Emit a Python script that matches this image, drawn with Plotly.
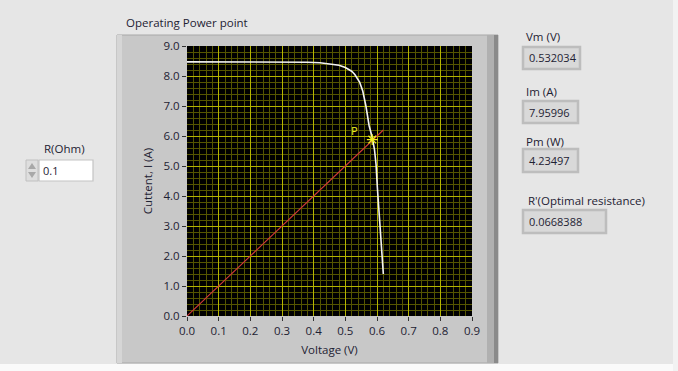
import plotly.graph_objects as go

# ---- data ----
voltage = [0.0, 0.1, 0.2, 0.3, 0.38, 0.42, 0.45, 0.48, 0.5, 0.52, 0.53, 0.545,
           0.555, 0.565, 0.575, 0.585, 0.592, 0.597, 0.601, 0.606, 0.611, 0.615, 0.62]
current = [8.47, 8.47, 8.47, 8.47, 8.46, 8.44, 8.41, 8.36, 8.28, 8.16, 8.05, 7.8,
           7.5, 7.0, 6.35, 5.95, 5.55, 5.05, 4.3, 3.5, 2.85, 2.25, 1.4]
load_v = [0.0, 0.62]
load_i = [0.0, 6.2]
point_v = [0.585]
point_i = [5.88]
point_label = ["P"]
x_ticks = [0.0, 0.1, 0.2, 0.3, 0.4, 0.5, 0.6, 0.7, 0.8, 0.9]
y_ticks = [0.0, 1.0, 2.0, 3.0, 4.0, 5.0, 6.0, 7.0, 8.0, 9.0]
indicators = [("Vm (V)", "0.532034"), ("Im (A)", "7.95996"),
              ("Pm (W)", "4.23497"), ("R'(Optimal resistance)", "0.0668388")]
r_value = "0.1"

W, H = 678, 371
L, R, T, B = 187, 206, 46, 55
PW, PH = W - L - R, H - T - B


def px(x):
    return (x - L) / PW


def py(y):
    return (H - B - y) / PH


FONT = "Open Sans"
TXT = "#1e2233"
YEL = "#f0f020"

fig = go.Figure()
fig.add_trace(go.Scatter(x=voltage, y=current, mode="lines",
                         line=dict(color="#f2f2f2", width=1.6), hoverinfo="skip"))
fig.add_trace(go.Scatter(x=load_v, y=load_i, mode="lines",
                         line=dict(color="#d43a3a", width=1.1), hoverinfo="skip"))
fig.add_trace(go.Scatter(x=point_v, y=point_i, mode="markers",
                         marker=dict(symbol="asterisk-open", size=9, color=YEL,
                                     line=dict(color=YEL, width=1.2)),
                         hoverinfo="skip"))

shapes = []
# white window edge (bottom / right)
shapes.append(dict(type="rect", xref="paper", yref="paper", layer="below",
                   x0=px(0), x1=px(678), y0=py(371), y1=py(364),
                   fillcolor="#fafafa", line=dict(width=0)))
shapes.append(dict(type="rect", xref="paper", yref="paper", layer="below",
                   x0=px(673), x1=px(678), y0=py(371), y1=py(0),
                   fillcolor="#f2f2f2", line=dict(width=0)))
# graph frame
shapes.append(dict(type="rect", xref="paper", yref="paper", layer="below",
                   x0=px(117), x1=px(498), y0=py(363), y1=py(35),
                   fillcolor="#c8c8c8", line=dict(color="#a8a8a8", width=1)))
shapes.append(dict(type="rect", xref="paper", yref="paper", layer="below",
                   x0=px(487), x1=px(498), y0=py(363), y1=py(35),
                   fillcolor="#b0b0b0", line=dict(width=0)))
shapes.append(dict(type="rect", xref="paper", yref="paper", layer="below",
                   x0=px(494), x1=px(498), y0=py(363), y1=py(35),
                   fillcolor="#8a8a8a", line=dict(width=0)))
shapes.append(dict(type="rect", xref="paper", yref="paper", layer="below",
                   x0=px(117), x1=px(122), y0=py(363), y1=py(35),
                   fillcolor="#d6d6d6", line=dict(width=0)))
# plot area
shapes.append(dict(type="rect", xref="paper", yref="paper", layer="below",
                   x0=0, x1=1, y0=0, y1=1, fillcolor="#000000", line=dict(width=0)))

annotations = [
    dict(text="Operating Power point", x=px(124), y=py(22), xref="paper", yref="paper",
         xanchor="left", yanchor="middle", showarrow=False,
         font=dict(family=FONT, size=11.5, color=TXT)),
]
for i, lbl in enumerate(point_label):
    annotations.append(dict(text=lbl, x=point_v[i], y=point_i[i], xref="x", yref="y",
                            xanchor="right", yanchor="bottom", xshift=-12, yshift=0,
                            showarrow=False,
                            font=dict(family=FONT, size=11, color=YEL)))

# indicators on right
label_y = [37, 91, 141, 200]
box_y = [(47, 69), (101, 123), (149, 172), (210, 233)]
box_w = [57, 55, 55, 83]
for (lbl, val), ly, (b0, b1), bw in zip(indicators, label_y, box_y, box_w):
    lx = 524 if not lbl.startswith("R'") else 526
    annotations.append(dict(text=lbl, x=px(lx), y=py(ly), xref="paper", yref="paper",
                            xanchor="left", yanchor="middle", showarrow=False,
                            font=dict(family=FONT, size=11.5, color=TXT)))
    shapes.append(dict(type="rect", xref="paper", yref="paper",
                       x0=px(523), x1=px(523 + bw), y0=py(b1), y1=py(b0),
                       fillcolor="#d9d9d9", line=dict(color="#bdbdbd", width=2.5)))
    annotations.append(dict(text=val, x=px(527), y=py((b0 + b1) / 2), xref="paper",
                            yref="paper", xanchor="left", yanchor="middle", showarrow=False,
                            font=dict(family=FONT, size=11, color=TXT)))

# R(Ohm) control
annotations.append(dict(text="R(Ohm)", x=px(64), y=py(148), xref="paper", yref="paper",
                        xanchor="center", yanchor="middle", showarrow=False,
                        font=dict(family=FONT, size=11.5, color=TXT)))
shapes.append(dict(type="rect", xref="paper", yref="paper",
                   x0=px(39), x1=px(93), y0=py(181), y1=py(160),
                   fillcolor="#ffffff", line=dict(color="#c4c4c4", width=1.2)))
shapes.append(dict(type="rect", xref="paper", yref="paper",
                   x0=px(26), x1=px(38), y0=py(181), y1=py(160),
                   fillcolor="#dedede", line=dict(color="#c0c0c0", width=1)))
shapes.append(dict(type="path", xref="paper", yref="paper",
                   path=f"M {px(28)} {py(169)} L {px(36)} {py(169)} L {px(32)} {py(163)} Z",
                   fillcolor="#a8a8a8", line=dict(width=0)))
shapes.append(dict(type="path", xref="paper", yref="paper",
                   path=f"M {px(28)} {py(172)} L {px(36)} {py(172)} L {px(32)} {py(178)} Z",
                   fillcolor="#a8a8a8", line=dict(width=0)))
annotations.append(dict(text=r_value, x=px(41), y=py(170.5), xref="paper", yref="paper",
                        xanchor="left", yanchor="middle", showarrow=False,
                        font=dict(family=FONT, size=11, color=TXT)))

axis_common = dict(showline=False, zeroline=False, ticks="outside", ticklen=4,
                   tickwidth=1, tickcolor="#333333", showgrid=True,
                   gridcolor="#b4b400", gridwidth=1,
                   tickfont=dict(family=FONT, size=11.5, color=TXT),
                   title_font=dict(family=FONT, size=11.5, color=TXT))

fig.update_layout(
    width=W, height=H, margin=dict(l=L, r=R, t=T, b=B),
    paper_bgcolor="#e6e6e6", plot_bgcolor="rgba(0,0,0,0)",
    showlegend=False, shapes=shapes, annotations=annotations,
    xaxis=dict(range=[0, 0.9], tickvals=x_ticks, ticktext=[f"{v:.1f}" for v in x_ticks],
               title=dict(text="Voltage (V)", standoff=9),
               minor=dict(dtick=0.02, showgrid=True, gridcolor="#555500", gridwidth=1),
               **axis_common),
    yaxis=dict(range=[0, 9], tickvals=y_ticks, ticktext=[f"{v:.1f}" for v in y_ticks],
               title=dict(text="Cuttent, I (A)", standoff=8),
               minor=dict(dtick=0.2, showgrid=True, gridcolor="#555500", gridwidth=1),
               **axis_common),
)

fig.write_html("out.html", config={"displayModeBar": False},
               post_script="document.body.style.margin='0';"
                           "document.body.style.overflow='hidden';")
